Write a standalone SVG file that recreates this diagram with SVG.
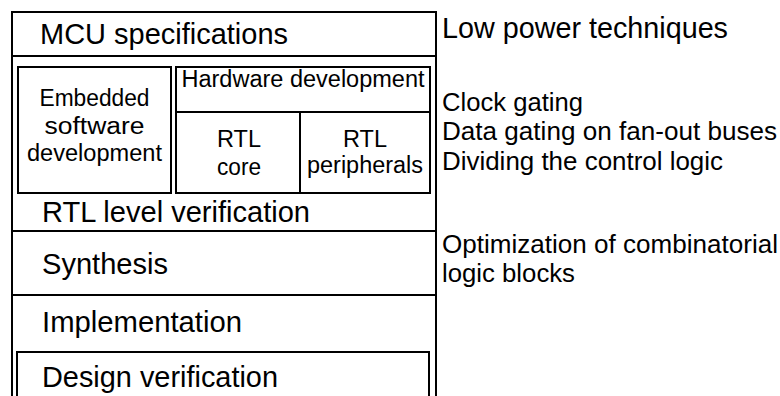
<svg xmlns="http://www.w3.org/2000/svg" width="780" height="396" viewBox="0 0 780 396">
<style>
.box{fill:#fff;stroke:#000;stroke-width:2}
.ln{stroke:#000;stroke-width:2;fill:none}
text{font-family:"Liberation Sans",Arial,sans-serif;fill:#000}
.l{font-size:29px}
.s{font-size:23.5px}
.m{text-anchor:middle}
.r{font-size:26px}
.h{font-size:29px}
</style>
<rect width="780" height="396" fill="#fff"/>
<g id="mcu-specifications">
<rect class="box" x="12" y="12" width="424" height="44"/>
<text class="l" x="40" y="44" textLength="248" lengthAdjust="spacingAndGlyphs">MCU specifications</text>
</g>
<g id="rtl-level-verification">
<rect class="box" x="12" y="56" width="424" height="175"/>
<text class="l" x="42" y="222" textLength="268" lengthAdjust="spacingAndGlyphs">RTL level verification</text>
</g>
<g id="embedded-software">
<rect class="box" x="18" y="67" width="153" height="126"/>
<text class="s m" x="94.5" y="106" textLength="110" lengthAdjust="spacingAndGlyphs">Embedded</text>
<text class="s m" x="94.5" y="134" textLength="100" lengthAdjust="spacingAndGlyphs">software</text>
<text class="s m" x="94.5" y="161" textLength="135" lengthAdjust="spacingAndGlyphs">development</text>
</g>
<g id="hardware-development">
<rect class="box" x="176" y="67" width="254" height="126"/>
<line class="ln" x1="176" y1="112" x2="430" y2="112"/>
<text class="s m" x="303" y="87" textLength="243" lengthAdjust="spacingAndGlyphs">Hardware development</text>
</g>
<g id="rtl-core">
<text class="s m" x="239" y="147" textLength="44" lengthAdjust="spacingAndGlyphs">RTL</text>
<text class="s m" x="239" y="175" textLength="44" lengthAdjust="spacingAndGlyphs">core</text>
</g>
<g id="rtl-peripherals">
<line class="ln" x1="300" y1="112" x2="300" y2="193"/>
<text class="s m" x="365" y="147" textLength="44" lengthAdjust="spacingAndGlyphs">RTL</text>
<text class="s m" x="365" y="173" textLength="116" lengthAdjust="spacingAndGlyphs">peripherals</text>
</g>
<g id="synthesis">
<rect class="box" x="12" y="231" width="424" height="64"/>
<text class="l" x="42" y="274" textLength="126" lengthAdjust="spacingAndGlyphs">Synthesis</text>
</g>
<g id="implementation">
<rect class="box" x="12" y="295" width="424" height="110"/>
<text class="l" x="42" y="332" textLength="200" lengthAdjust="spacingAndGlyphs">Implementation</text>
</g>
<g id="design-verification">
<rect class="box" x="17" y="352" width="412" height="60"/>
<text class="l" x="42" y="387" textLength="236" lengthAdjust="spacingAndGlyphs">Design verification</text>
</g>
<g id="low-power-techniques">
<text class="h" x="442" y="38" textLength="286" lengthAdjust="spacingAndGlyphs">Low power techniques</text>
<text class="r" x="442" y="111" textLength="141" lengthAdjust="spacingAndGlyphs">Clock gating</text>
<text class="r" x="442" y="140" textLength="335" lengthAdjust="spacingAndGlyphs">Data gating on fan-out buses</text>
<text class="r" x="442" y="170" textLength="281" lengthAdjust="spacingAndGlyphs">Dividing the control logic</text>
<text class="r" x="442" y="253" textLength="336" lengthAdjust="spacingAndGlyphs">Optimization of combinatorial</text>
<text class="r" x="442" y="282" textLength="133" lengthAdjust="spacingAndGlyphs">logic blocks</text>
</g>
<g id="connectors"></g>
</svg>
